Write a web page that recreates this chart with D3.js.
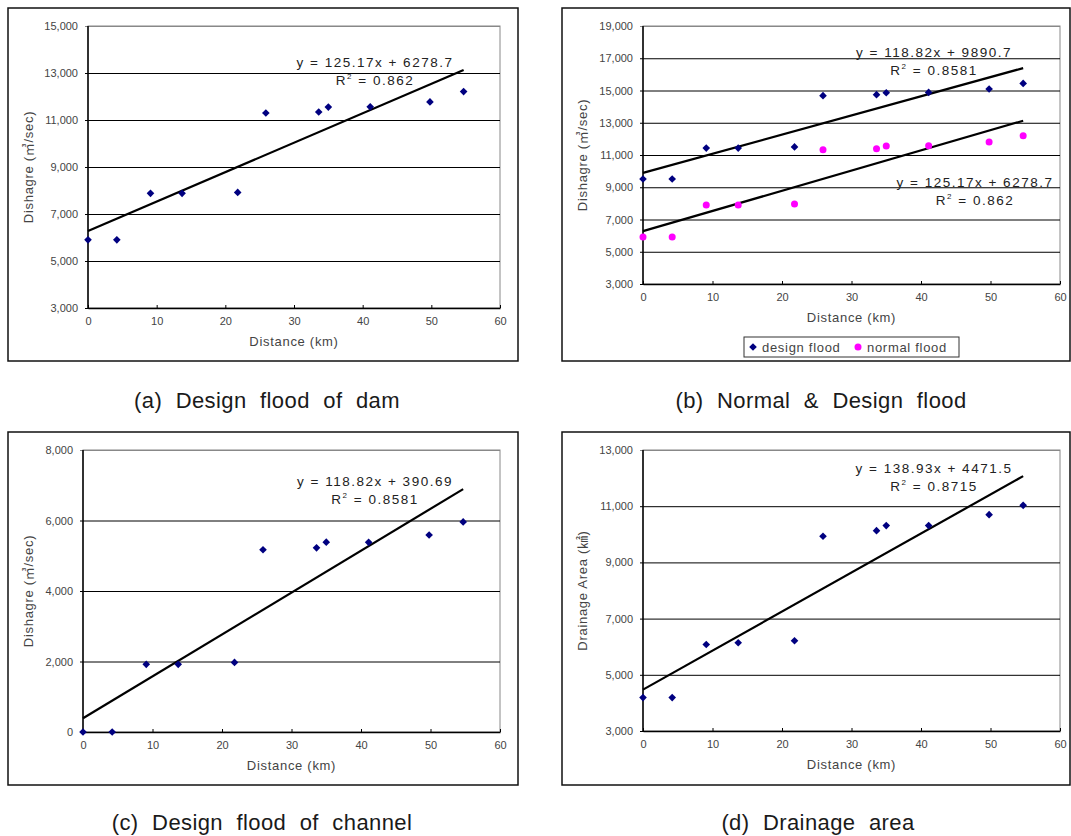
<!DOCTYPE html>
<html lang="en">
<head>
    <meta charset="UTF-8">
    <title>Discharge and drainage area vs distance</title>
    <script src="https://d3js.org/d3.v7.min.js"></script>
    <style>
        body { margin: 0; background: #fff; }
        svg { display: block; font-family: "Liberation Sans", Arial, "Noto Sans CJK KR", sans-serif; }
        .tick-label { fill: #444; font-size: 11px; }
        .axis-title { fill: #444; font-size: 13px; letter-spacing: 0.7px; }
        .eq { fill: #222; font-size: 13.5px; letter-spacing: 1.5px; }
        .caption { fill: #1a1a1a; font-size: 22px; word-spacing: 7px; letter-spacing: 0.4px; }
    </style>
</head>
<body>
    <svg width="1071" height="836"></svg>

    <script>
        // station distances (km), same for every panel
        const distance = [0, 4.2, 9.1, 13.7, 21.8, 25.9, 33.6, 35.0, 41.1, 49.8, 54.7];

        // (a) design flood of dam
        const damFlood = [5900, 5900, 7880, 7880, 7920, 11300, 11340, 11550, 11560, 11770, 12210];
        // (b) design flood / normal flood
        const designFlood = [9510, 9510, 11430, 11430, 11500, 14680, 14740, 14860, 14880, 15090, 15440];
        const normalFlood = [5910, 5910, 7900, 7900, 7960, 11330, 11390, 11560, 11580, 11810, 12200];
        // (c) design flood of channel
        const channelFlood = [0, 0, 1920, 1920, 1975, 5170, 5225, 5385, 5380, 5590, 5960];
        // (d) drainage area
        const drainageArea = [4190, 4190, 6080, 6140, 6210, 9930, 10130, 10310, 10310, 10700, 11030];

        // tick values
        const xTicks = [0, 10, 20, 30, 40, 50, 60];
        const yTicksA = [3000, 5000, 7000, 9000, 11000, 13000, 15000];
        const yTicksB = [3000, 5000, 7000, 9000, 11000, 13000, 15000, 17000, 19000];
        const yTicksC = [0, 2000, 4000, 6000, 8000];
        const yTicksD = [3000, 5000, 7000, 9000, 11000, 13000];

        // trend lines: [slope, intercept, equation, r2]
        const trendDam = [125.17, 6278.7, "y = 125.17x + 6278.7", "0.862"];
        const trendDesign = [118.82, 9890.7, "y = 118.82x + 9890.7", "0.8581"];
        const trendChannel = [118.82, 390.69, "y = 118.82x + 390.69", "0.8581"];
        const trendArea = [138.93, 4471.5, "y = 138.93x + 4471.5", "0.8715"];

        const captions = ["(a) Design flood of dam", "(b) Normal & Design flood",
                          "(c) Design flood of channel", "(d) Drainage area"];

        const svg = d3.select("svg");
        const fmt = d3.format(",");

        const panels = [
            { frame: [8, 8, 510, 353], plot: [88, 500, 26, 308], yTicks: yTicksA,
              yTitle: "Dishagre (㎥/sec)", yTitleX: 28,
              series: [{ values: damFlood, shape: "diamond", trend: trendDam, eq: [375, 62] }],
              caption: [267, 408, captions[0]] },
            { frame: [562, 8, 508, 353], plot: [643, 1060, 26, 284], yTicks: yTicksB,
              yTitle: "Dishagre (㎥/sec)", yTitleX: 582,
              series: [{ values: designFlood, shape: "diamond", trend: trendDesign, eq: [934, 52] },
                       { values: normalFlood, shape: "circle", trend: trendDam, eq: [975, 182] }],
              legend: true,
              caption: [821, 408, captions[1]] },
            { frame: [8, 432, 510, 353], plot: [83, 500, 450, 732], yTicks: yTicksC,
              yTitle: "Dishagre (㎥/sec)", yTitleX: 28,
              series: [{ values: channelFlood, shape: "diamond", trend: trendChannel, eq: [375, 481] }],
              caption: [262, 830, captions[2]] },
            { frame: [562, 432, 508, 353], plot: [643, 1060, 450, 731], yTicks: yTicksD,
              yTitle: "Drainage Area (㎢)", yTitleX: 582,
              series: [{ values: drainageArea, shape: "diamond", trend: trendArea, eq: [934, 468] }],
              caption: [818, 830, captions[3]] }
        ];

        panels.forEach(drawPanel);

        function drawPanel(p) {
            const [fx, fy, fw, fh] = p.frame;
            const [l, r, t, b] = p.plot;
            const g = svg.append("g");

            // outer chart frame
            g.append("rect")
                .attr("x", fx).attr("y", fy).attr("width", fw).attr("height", fh)
                .attr("fill", "none").attr("stroke", "#111").attr("stroke-width", 1.5);

            const x = d3.scaleLinear().domain([0, 60]).range([l, r]);
            const y = d3.scaleLinear().domain(d3.extent(p.yTicks)).range([b, t]);

            // plot area border (grey)
            g.append("rect")
                .attr("x", l).attr("y", t).attr("width", r - l).attr("height", b - t)
                .attr("fill", "none").attr("stroke", "#888").attr("stroke-width", 1);

            // horizontal gridlines + y labels
            const yAxis = g.append("g")
                .attr("transform", `translate(${l},0)`)
                .call(d3.axisLeft(y).tickValues(p.yTicks).tickSize(-(r - l)).tickSizeOuter(0).tickFormat(fmt));
            yAxis.select(".domain").remove();
            yAxis.selectAll(".tick line").attr("stroke", "#000").attr("stroke-width", 1)
                .attr("x1", -3);
            yAxis.selectAll(".tick line").filter(d => d === p.yTicks[p.yTicks.length - 1]).attr("stroke", "#888").attr("x1", -3);
            yAxis.selectAll(".tick text").attr("class", "tick-label").attr("x", -10);
            yAxis.attr("font-family", null).attr("font-size", null);

            // x axis
            const xAxis = g.append("g")
                .attr("transform", `translate(0,${b})`)
                .call(d3.axisBottom(x).tickValues(xTicks).tickSize(3).tickSizeOuter(0));
            xAxis.select(".domain").attr("stroke", "#000").attr("stroke-width", 1.5);
            xAxis.selectAll(".tick line").attr("y1", -3).attr("y2", 0).attr("stroke", "#000");
            xAxis.selectAll(".tick text").attr("class", "tick-label").attr("y", 9);
            xAxis.attr("font-family", null).attr("font-size", null);

            // left axis line
            g.append("line")
                .attr("x1", l).attr("x2", l).attr("y1", t).attr("y2", b)
                .attr("stroke", "#000").attr("stroke-width", 1.5);

            // axis titles
            g.append("text").attr("class", "axis-title")
                .attr("x", (l + r) / 2).attr("y", b + 38)
                .attr("text-anchor", "middle")
                .text("Distance (km)");
            g.append("text").attr("class", "axis-title")
                .attr("transform", `translate(${p.yTitleX + 5},${(t + b) / 2}) rotate(-90)`)
                .attr("text-anchor", "middle")
                .text(p.yTitle);

            p.series.forEach(s => {
                const pts = distance.map((d, i) => [d, s.values[i]]);
                const [slope, icpt, eqText, r2] = s.trend;
                const xMax = d3.max(distance);

                // trend line
                g.append("line")
                    .attr("x1", x(0)).attr("y1", y(icpt))
                    .attr("x2", x(xMax)).attr("y2", y(slope * xMax + icpt))
                    .attr("stroke", "#000").attr("stroke-width", 2.2);

                // markers
                if (s.shape === "diamond") {
                    g.append("g").selectAll("path")
                        .data(pts).enter().append("path")
                        .attr("transform", d => `translate(${x(d[0])},${y(d[1])}) rotate(45)`)
                        .attr("d", "M-2.7,-2.7H2.7V2.7H-2.7Z")
                        .attr("fill", "#000080");
                } else {
                    g.append("g").selectAll("circle")
                        .data(pts).enter().append("circle")
                        .attr("cx", d => x(d[0])).attr("cy", d => y(d[1]))
                        .attr("r", 3.5)
                        .attr("fill", "#ff00ff");
                }

                // equation label
                const [ex, ey] = s.eq;
                g.append("text").attr("class", "eq")
                    .attr("x", ex).attr("y", ey + 5)
                    .attr("text-anchor", "middle")
                    .text(eqText);
                const r2t = g.append("text").attr("class", "eq")
                    .attr("x", ex).attr("y", ey + 23)
                    .attr("text-anchor", "middle");
                r2t.append("tspan").text("R");
                r2t.append("tspan").attr("dy", -6).attr("font-size", "8px").text("2");
                r2t.append("tspan").attr("dy", 6).text(" = " + r2);
            });

            if (p.legend) {
                const lg = g.append("g");
                lg.append("rect")
                    .attr("x", 744).attr("y", 337).attr("width", 215).attr("height", 20)
                    .attr("fill", "#fff").attr("stroke", "#333").attr("stroke-width", 1);
                lg.append("path")
                    .attr("transform", "translate(753,347) rotate(45)")
                    .attr("d", "M-2.7,-2.7H2.7V2.7H-2.7Z")
                    .attr("fill", "#000080");
                lg.append("text").attr("class", "axis-title")
                    .attr("x", 762).attr("y", 352).attr("fill", "#333").text("design flood");
                lg.append("circle").attr("cx", 858).attr("cy", 347).attr("r", 3.5).attr("fill", "#ff00ff");
                lg.append("text").attr("class", "axis-title")
                    .attr("x", 867).attr("y", 352).attr("fill", "#333").text("normal flood");
            }

            // caption below the chart
            const [cx, cy, ctext] = p.caption;
            svg.append("text").attr("class", "caption")
                .attr("x", cx).attr("y", cy)
                .attr("text-anchor", "middle")
                .text(ctext);
        }
    </script>
</body>
</html>
